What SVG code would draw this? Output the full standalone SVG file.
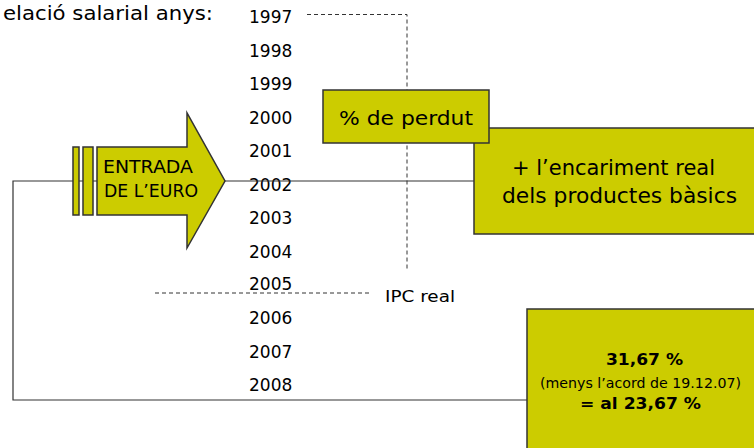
<svg xmlns="http://www.w3.org/2000/svg" width="754" height="448" viewBox="0 0 754 448">
<style>
.box{fill:#CCCC00;stroke:#333;stroke-width:1.5}
.yr{font-family:"DejaVu Sans",sans-serif;font-size:17px;fill:#000}
.cm{font-family:"DejaVu Sans","Noto Sans",sans-serif;fill:#000}
.ln{fill:none;stroke:#333;stroke-width:1.2}
.dash{fill:none;stroke:#333;stroke-width:1;stroke-dasharray:4 3}
</style>
<rect width="754" height="448" fill="#fff"/>
<text class="cm" x="3" y="20" font-size="19" textLength="210" lengthAdjust="spacingAndGlyphs">elació salarial anys:</text>
<g id="years">
<text class="yr" x="249" y="23">1997</text>
<text class="yr" x="249" y="56.5">1998</text>
<text class="yr" x="249" y="90">1999</text>
<text class="yr" x="249" y="123.5">2000</text>
<text class="yr" x="249" y="157">2001</text>
<text class="yr" x="249" y="190.5">2002</text>
<text class="yr" x="249" y="224">2003</text>
<text class="yr" x="249" y="257.5">2004</text>
<text class="yr" x="249" y="290">2005</text>
<text class="yr" x="249" y="324">2006</text>
<text class="yr" x="249" y="357.5">2007</text>
<text class="yr" x="249" y="391">2008</text>
</g>
<g id="connectors">
<polyline class="dash" points="307,14.5 407,14.5 407,270"/>
<line class="dash" x1="155" y1="293" x2="370" y2="293"/>
<polyline class="ln" points="474,181 13,181 13,400 527,400"/>
</g>
<g id="ipc">
<text class="cm" x="385" y="302" font-size="15" textLength="70" lengthAdjust="spacingAndGlyphs">IPC real</text>
</g>
<g id="euro">
<rect class="box" x="73" y="147" width="6" height="68" stroke-width="1"/>
<rect class="box" x="83" y="147" width="10" height="68" stroke-width="1"/>
<polygon class="box" points="97,147 187,147 187,113 225,181 187,248 187,215 97,215" stroke-width="1"/>
<text class="cm" x="103" y="173" font-size="17" textLength="90" lengthAdjust="spacingAndGlyphs">ENTRADA</text>
<text class="cm" x="104" y="197" font-size="17" textLength="94" lengthAdjust="spacingAndGlyphs">DE L’EURO</text>
</g>
<g id="encariment">
<rect class="box" x="474" y="128" width="290" height="106"/>
<text class="cm" x="613.5" y="175" font-size="21" text-anchor="middle" textLength="203" lengthAdjust="spacingAndGlyphs">+ l’encariment real</text>
<text class="cm" x="619.5" y="203" font-size="21" text-anchor="middle" textLength="235" lengthAdjust="spacingAndGlyphs">dels productes bàsics</text>
</g>
<g id="perdut">
<rect class="box" x="323" y="90" width="166" height="53"/>
<text class="cm" x="339" y="125" font-size="20" textLength="134" lengthAdjust="spacingAndGlyphs">% de perdut</text>
</g>
<g id="resultat">
<rect class="box" x="527" y="309" width="240" height="150"/>
<text class="cm" x="644.5" y="365" font-size="16" font-weight="bold" text-anchor="middle" textLength="77" lengthAdjust="spacingAndGlyphs">31,67 %</text>
<text class="cm" x="640.5" y="388" font-size="14" text-anchor="middle" textLength="201" lengthAdjust="spacingAndGlyphs">(menys l’acord de 19.12.07)</text>
<text class="cm" x="640.5" y="409" font-size="16" font-weight="bold" text-anchor="middle" textLength="121" lengthAdjust="spacingAndGlyphs">= al 23,67 %</text>
</g>
</svg>
